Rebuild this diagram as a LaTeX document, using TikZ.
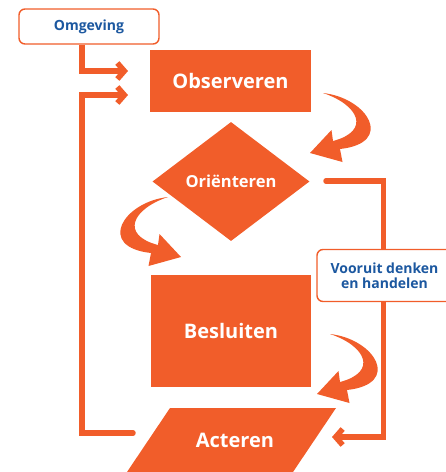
\documentclass[tikz,border=0pt]{standalone}
\usepackage{fontspec}
\setmainfont{Open Sans}
\usetikzlibrary{arrows.meta,shapes.geometric,backgrounds}
\definecolor{org}{RGB}{241,93,42}
\definecolor{txtblue}{RGB}{28,88,160}
\begin{document}
\begin{tikzpicture}[x=1pt,y=-1pt,
  conn/.style={draw=org,line width=5.5pt,line join=miter},
  tipc/.style={-{Straight Barb[length=7pt,width=16pt]}},
  lbl/.style={draw=org,line width=1.4pt,fill=white,rounded corners=6pt,text=txtblue,
    font=\bfseries\fontsize{14}{15.5}\selectfont,align=center,inner sep=0pt},
  blk/.style={fill=org,text=white,inner sep=0pt},
  crescent/.pic={\fill[org] (0,0) .. controls (45,5) and (72,50) .. (17,56)
     -- (19.5,69) -- (-13,60) -- (8.5,37) -- (10,48)
     .. controls (48,38) and (36,12) .. (0,0) -- cycle;}]
\useasboundingbox (0,0) rectangle (446,472);

\node[lbl,minimum width=140pt,minimum height=35pt] (omg) at (89,26.5) {Omgeving};
\node[blk,minimum width=161pt,minimum height=62pt,font=\bfseries\fontsize{20}{24}\selectfont] (obs) at (230.5,81) {Observeren};
\node[blk,diamond,aspect=1.32,minimum width=157pt,minimum height=119pt,font=\bfseries\fontsize{16.5}{19}\selectfont] (ori) at (231,181.5) {Oriënteren};
\node[blk,minimum width=160pt,minimum height=112pt,font=\bfseries\fontsize{20}{24}\selectfont] (bes) at (231,331) {Besluiten};
\fill[org] (170,408) -- (336,408) -- (293,472) -- (127,472) -- cycle;
\node[text=white,inner sep=0pt,font=\bfseries\fontsize{20}{24}\selectfont] (act) at (235,440) {Acteren};
\node[lbl,minimum width=135pt,minimum height=52pt] (voo) at (384.5,275.5) {Vooruit denken\\en handelen};

\coordinate (in1) at (128,71);
\coordinate (in2) at (128,95);
\coordinate (a1) at (133,433);
\coordinate (r1) at (326,181);
\coordinate (ar) at (332,437);

\begin{pgfonlayer}{background}
\draw[conn,tipc] (omg.south -| 82,0) |- (in1);
\draw[conn,tipc,line cap=round] (a1) -| (82,95) -- (in2);
\draw[conn,tipc,line cap=round] (r1) -| (383.5,437) -- (ar);
\end{pgfonlayer}

\pic at (323,93) {crescent};
\pic[xscale=-1] at (168,197) {crescent};
\pic at (330,334) {crescent};
\end{tikzpicture}
\end{document}
